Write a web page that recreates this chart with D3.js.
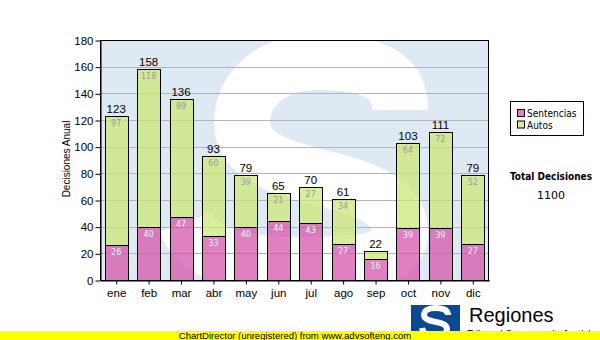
<!DOCTYPE html>
<html>
<head>
<meta charset="utf-8">
<script src="https://cdn.jsdelivr.net/npm/d3@7"></script>
<style>
  body { margin: 0; background: #fff; }
  svg { display: block; }
</style>
</head>
<body>
<svg id="chart" width="600" height="340"></svg>
<script>
// Monthly decisions, stacked: Sentencias (bottom) + Autos (top)
const months = ["ene", "feb", "mar", "abr", "may", "jun", "jul", "ago", "sep", "oct", "nov", "dic"];
const sentencias = [26, 40, 47, 33, 40, 44, 43, 27, 16, 39, 39, 27];
const autos = [97, 118, 89, 60, 39, 21, 27, 34, 6, 64, 72, 52];
const yTicks = [0, 20, 40, 60, 80, 100, 120, 140, 160, 180];
const seriesNames = ["Sentencias", "Autos"];

const W = 600, H = 340;
const plot = { left: 100, top: 40, right: 489, bottom: 280 };

const colPink = "rgb(212,86,171)";
const colGreen = "rgb(204,232,120)";
const barAlpha = 0.75;
const swatchPink = "#df80c0";
const swatchGreen = "#d8ee9a";

const svg = d3.select("#chart");

const x = d3.scaleBand()
  .domain(months)
  .range([plot.left, plot.right])
  .paddingInner(0.29)
  .paddingOuter(0.145);

const y = d3.scaleLinear()
  .domain([0, 180])
  .range([plot.bottom, plot.top]);

const totals = months.map((m, i) => sentencias[i] + autos[i]);
const grandTotal = d3.sum(totals);

// Plot background with a large watermark "S" stroke
svg.append("defs").append("clipPath").attr("id", "plotClip")
  .append("rect")
  .attr("x", plot.left).attr("y", plot.top)
  .attr("width", plot.right - plot.left).attr("height", plot.bottom - plot.top);

const bg = svg.append("g").attr("clip-path", "url(#plotClip)");
bg.append("rect")
  .attr("x", plot.left).attr("y", plot.top)
  .attr("width", plot.right - plot.left).attr("height", plot.bottom - plot.top)
  .attr("fill", "#dfe9f3");

const sPath = d3.path();
sPath.moveTo(400, 110);
sPath.bezierCurveTo(400, 70, 362, 62, 318, 62);
sPath.bezierCurveTo(270, 62, 242, 90, 242, 122);
sPath.bezierCurveTo(242, 160, 290, 170, 330, 180);
sPath.bezierCurveTo(375, 192, 400, 205, 400, 232);
sPath.bezierCurveTo(400, 262, 360, 265, 300, 265);
sPath.bezierCurveTo(240, 265, 198, 255, 186, 222);
bg.append("path")
  .attr("d", sPath.toString())
  .attr("fill", "none")
  .attr("stroke", "#ffffff")
  .attr("stroke-width", 56)
  .attr("stroke-linecap", "butt");

// Horizontal grid lines
svg.append("g")
  .selectAll("line")
  .data(yTicks.filter(t => t > 0 && t < 180))
  .join("line")
  .attr("x1", plot.left).attr("x2", plot.right)
  .attr("y1", d => Math.round(y(d)) + 0.5)
  .attr("y2", d => Math.round(y(d)) + 0.5)
  .attr("stroke", "#b4b4b4")
  .attr("stroke-width", 1);

// Stacked bars
const px = v => Math.round(v) + 0.5;
const bars = svg.append("g");
months.forEach((m, i) => {
  const x0 = px(x(m));
  const x1 = px(x(m) + x.bandwidth());
  const yBase = px(y(0));
  const ySent = px(y(sentencias[i]));
  const yTop = px(y(totals[i]));

  bars.append("rect")
    .attr("x", x0).attr("y", ySent)
    .attr("width", x1 - x0).attr("height", yBase - ySent)
    .attr("fill", colPink).attr("fill-opacity", barAlpha)
    .attr("stroke", "#000").attr("stroke-width", 1);

  bars.append("rect")
    .attr("x", x0).attr("y", yTop)
    .attr("width", x1 - x0).attr("height", ySent - yTop)
    .attr("fill", colGreen).attr("fill-opacity", barAlpha)
    .attr("stroke", "#000").attr("stroke-width", 1);
});

// Segment labels and totals
const labels = svg.append("g").attr("text-anchor", "middle");
months.forEach((m, i) => {
  const cx = x(m) + x.bandwidth() / 2;
  const hSent = y(0) - y(sentencias[i]);
  const hAutos = y(sentencias[i]) - y(totals[i]);

  labels.append("text")
    .attr("x", cx).attr("y", y(totals[i]) - 3)
    .attr("font-family", "Liberation Sans, Arial, sans-serif")
    .attr("font-size", 11.5)
    .attr("fill", "#000")
    .text(totals[i]);

  if (hAutos >= 12) {
    labels.append("text")
      .attr("x", cx).attr("y", y(totals[i]) + 10)
      .attr("font-family", "DejaVu Sans, sans-serif")
      .attr("font-size", 8)
      .attr("fill", "#999999")
      .text(autos[i]);
  }
  if (hSent >= 12) {
    labels.append("text")
      .attr("x", cx).attr("y", y(sentencias[i]) + 10)
      .attr("font-family", "DejaVu Sans, sans-serif")
      .attr("font-size", 8)
      .attr("fill", "#f6f6f6")
      .text(sentencias[i]);
  }
});

// Plot frame
svg.append("rect")
  .attr("x", plot.left + 0.5).attr("y", plot.top + 0.5)
  .attr("width", plot.right - plot.left - 1).attr("height", plot.bottom - plot.top)
  .attr("fill", "none").attr("stroke", "#000").attr("stroke-width", 1);

// Axes
const yAxis = svg.append("g")
  .attr("transform", `translate(${plot.left + 0.5},0.5)`)
  .call(d3.axisLeft(y).tickValues(yTicks).tickSize(5).tickSizeOuter(0).tickPadding(2));
yAxis.select(".domain").attr("stroke", "#000");
yAxis.selectAll("text")
  .attr("font-family", "Liberation Sans, Arial, sans-serif")
  .attr("font-size", 11.5)
  .attr("fill", "#000");

const xAxis = svg.append("g")
  .attr("transform", `translate(0.5,${plot.bottom + 0.5})`)
  .call(d3.axisBottom(x).tickSize(4).tickSizeOuter(0).tickPadding(4));
xAxis.select(".domain").attr("stroke", "#000");
xAxis.selectAll("text")
  .attr("font-family", "Liberation Sans, Arial, sans-serif")
  .attr("font-size", 11.5)
  .attr("fill", "#000");

// Y axis title
svg.append("text")
  .attr("transform", `translate(70,159) rotate(-90)`)
  .attr("text-anchor", "middle")
  .attr("font-family", "Liberation Sans, Arial, sans-serif")
  .attr("font-size", 10)
  .attr("fill", "#000")
  .text("Decisiones Anual");

// Legend
const legend = svg.append("g");
legend.append("rect")
  .attr("x", 510.5).attr("y", 101.5).attr("width", 73).attr("height", 34)
  .attr("fill", "#fff").attr("stroke", "#000");
[swatchPink, swatchGreen].forEach((c, k) => {
  legend.append("rect")
    .attr("x", 517.5).attr("y", 109.5 + k * 11.5).attr("width", 7).attr("height", 7)
    .attr("fill", c).attr("stroke", "#000");
  legend.append("text")
    .attr("x", 527).attr("y", 117 + k * 11.5)
    .attr("font-family", "DejaVu Sans Condensed, DejaVu Sans, sans-serif")
    .attr("font-size", 10)
    .attr("fill", "#000")
    .text(seriesNames[k]);
});

// Grand total
svg.append("text")
  .attr("x", 551).attr("y", 180)
  .attr("text-anchor", "middle")
  .attr("font-family", "DejaVu Sans Condensed, DejaVu Sans, sans-serif")
  .attr("font-weight", "bold")
  .attr("font-size", 10)
  .attr("fill", "#000")
  .text("Total Decisiones");
svg.append("text")
  .attr("x", 551).attr("y", 199)
  .attr("text-anchor", "middle")
  .attr("font-family", "DejaVu Sans, sans-serif")
  .attr("font-size", 11)
  .attr("fill", "#000")
  .text(grandTotal);

// Footer logo: blue block with a white "S" stroke
svg.append("rect")
  .attr("x", 411).attr("y", 305).attr("width", 49).attr("height", 30)
  .attr("fill", "#0b4a92");
const logoPath = d3.path();
logoPath.moveTo(448, 315);
logoPath.bezierCurveTo(448, 309, 441, 308, 435, 308);
logoPath.bezierCurveTo(428, 308, 424, 311, 424, 315);
logoPath.bezierCurveTo(424, 320, 432, 321, 436, 322);
logoPath.bezierCurveTo(442, 323, 447, 325, 447, 329);
logoPath.bezierCurveTo(447, 334, 441, 336, 435, 336);
logoPath.bezierCurveTo(428, 336, 423, 334, 422, 328);
svg.append("path")
  .attr("d", logoPath.toString())
  .attr("fill", "none")
  .attr("stroke", "#fff")
  .attr("stroke-width", 6);

svg.append("text")
  .attr("x", 469).attr("y", 322)
  .attr("font-family", "Liberation Sans, Arial, sans-serif")
  .attr("font-size", 20)
  .attr("fill", "#000")
  .text("Regiones");
svg.append("text")
  .attr("x", 467).attr("y", 338)
  .attr("font-family", "Liberation Sans, Arial, sans-serif")
  .attr("font-size", 10)
  .attr("fill", "#000")
  .text("Tribunal Supremo de Justicia");

// Unregistered banner
svg.append("rect")
  .attr("x", 0).attr("y", 331).attr("width", W).attr("height", 9)
  .attr("fill", "#ffff00");
svg.append("text")
  .attr("x", 295).attr("y", 338.5)
  .attr("text-anchor", "middle")
  .attr("font-family", "Liberation Sans, Arial, sans-serif")
  .attr("font-size", 9.5)
  .attr("fill", "#000")
  .text("ChartDirector (unregistered) from www.advsofteng.com");
</script>
</body>
</html>
